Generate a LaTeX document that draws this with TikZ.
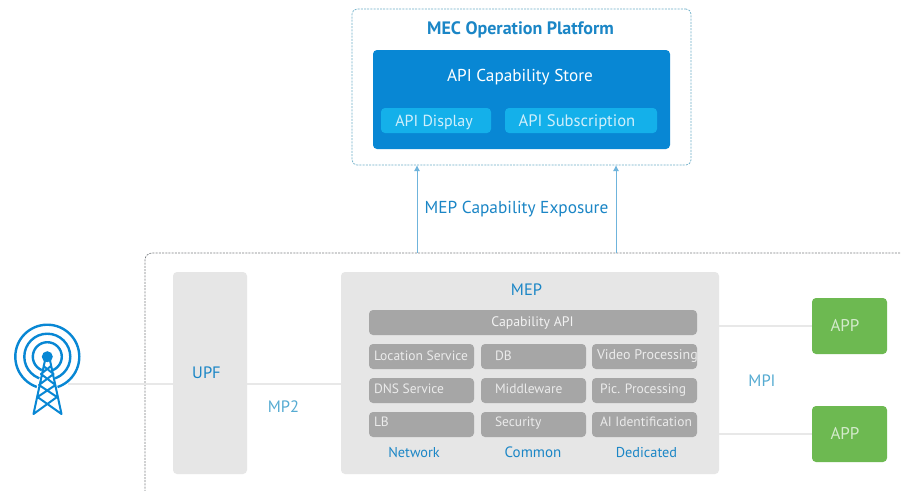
\documentclass[tikz,border=0pt]{standalone}
\usepackage{fontspec}
\setmainfont{PT Sans}
\usetikzlibrary{arrows.meta}
\definecolor{bluetxt}{HTML}{1B86C6}
\definecolor{lighttxt}{HTML}{55ABD2}
\definecolor{storeblue}{HTML}{0887D4}
\definecolor{subblue}{HTML}{14B0EA}
\definecolor{panel}{HTML}{E6E6E6}
\definecolor{cellgrey}{HTML}{A6A6A6}
\definecolor{appgreen}{HTML}{6DB951}
\definecolor{linegrey}{HTML}{E8E8E8}
\definecolor{arrowblue}{HTML}{6FB4DC}
\definecolor{dashgrey}{HTML}{7A7F82}
\definecolor{dashblue}{HTML}{6DAFC8}
\tikzset{
  x=1pt,y=-1pt,
  px/.style={inner sep=0pt,outer sep=0pt},
  cell/.style={px,fill=cellgrey,rounded corners=4pt,minimum width=105pt,minimum height=25pt},
  celltxt/.style={px,anchor=base west,text=white!78!cellgrey,font=\fontsize{13.5}{14}\selectfont},
  panelbox/.style={px,fill=panel,rounded corners=4pt},
  appbox/.style={px,fill=appgreen,rounded corners=4pt,minimum width=75pt,minimum height=56pt},
  apptxt/.style={px,text=white!70!appgreen,font=\fontsize{17}{17}\selectfont},
  wire/.style={linegrey,line width=1.6pt},
  up/.style={arrowblue,line width=1pt,-{Latex[length=6pt,width=6pt]}},
  tower/.style={storeblue,line width=2pt,line cap=round,line join=round},
  collabel/.style={px,text=bluetxt,font=\fontsize{14.3}{15}\selectfont},
  iflabel/.style={px,text=lighttxt,font=\fontsize{16.5}{17}\selectfont},
  subtxt/.style={px,text=white!80!subblue},
}
\begin{document}
\begin{tikzpicture}
\useasboundingbox (0,0) rectangle (901,490);
\fill[white] (0,0) rectangle (901,490);
% platform
\node[px,draw=dashblue,dash pattern=on 2pt off 1.2pt,line width=.7pt,rounded corners=5pt,minimum width=339pt,minimum height=156pt] (platform) at (521.5,87) {};
\node[px,text=bluetxt,font=\bfseries\fontsize{18}{18}\selectfont] (platformlabel) at (520.5,30) {MEC Operation Platform};
\node[px,fill=storeblue,rounded corners=4pt,minimum width=297pt,minimum height=99pt] (store) at (521.5,99.5) {};
\node[px,text=white,font=\fontsize{17.2}{17}\selectfont] (storelabel) at (520,77) {API Capability Store};
\node[px,fill=subblue,rounded corners=4pt,minimum width=110pt,minimum height=25pt] (display) at (436,120.5) {};
\node[subtxt,font=\fontsize{16}{16}\selectfont] (displayt) at (434,122) {API Display};
\node[px,fill=subblue,rounded corners=4pt,minimum width=152pt,minimum height=25pt] (subscr) at (581,120.5) {};
\node[subtxt,font=\fontsize{16.6}{16}\selectfont] (subscrt) at (577,122) {API Subscription};
% edge
\draw[dashgrey,dash pattern=on 2pt off 1.2pt,line width=.7pt,rounded corners=7pt] (145,495) -- (145,253) -- (905,253);
\coordinate (a1) at (417,253);
\coordinate (a2) at (616,253);
\draw[up] (a1) -- (a1 |- platform.south);
\draw[up] (a2) -- (a2 |- platform.south);
\node[px,text=bluetxt,font=\fontsize{17.3}{17}\selectfont] (exposure) at (516.5,209) {MEP Capability Exposure};
% panels
\node[panelbox,minimum width=74pt,minimum height=202pt] (upf) at (210,373) {};
\node[px,text=bluetxt,font=\fontsize{16.5}{16}\selectfont] (upft) at (206.5,372.5) {UPF};
\node[panelbox,minimum width=378pt,minimum height=202pt] (mep) at (530,373) {};
\node[px,text=bluetxt,font=\fontsize{16.5}{17}\selectfont] (meplabel) at (526.5,289.5) {MEP};
\node[px,fill=cellgrey,rounded corners=4pt,minimum width=328pt,minimum height=25pt] (capapi) at (533,322.5) {};
\node[px,text=white!85!cellgrey,font=\fontsize{13.8}{14}\selectfont] (capapit) at (532.5,323) {Capability API};
\foreach \n/\cx/\cy in {loc/421.5/356.5,dns/421.5/390.5,lb/421.5/424.5,db/533.5/356.5,mid/533.5/390.5,sec/533.5/424.5,vid/644.5/356.5,pic/644.5/390.5,ai/644.5/424.5}
  \node[cell] (\n) at (\cx,\cy) {};
\node[celltxt] (loct) at (374,360.5) {Location Service};
\node[celltxt] (dnst) at (374,393.5) {DNS Service};
\node[celltxt] (lbt) at (374,426.5) {LB};
\node[celltxt] (dbt) at (495,360.5) {DB};
\node[celltxt] (midt) at (495,393.5) {Middleware};
\node[celltxt] (sect) at (495,426.5) {Security};
\node[celltxt,font=\fontsize{14}{14}\selectfont] (vidt) at (597,359.5) {Video Processing};
\node[celltxt] (pict) at (600,393.5) {Pic. Processing};
\node[celltxt] (ait) at (600,426.5) {AI Identification};
\node[collabel] (net) at (414,452.5) {Network};
\node[collabel,font=\fontsize{15}{15}\selectfont] (com) at (533,452.5) {Common};
\node[collabel] (ded) at (646.5,452.5) {Dedicated};
% apps
\node[appbox] (app1) at (849.5,326) {};
\node[apptxt] (app1t) at (845,325) {APP};
\node[appbox] (app2) at (849.5,434) {};
\node[apptxt] (app2t) at (845,433) {APP};
% wires
\coordinate (ant) at (68,384);
\draw[wire] (ant) -- (ant -| upf.west);
\draw[wire] (upf.east |- ant) -- (mep.west |- ant);
\draw[wire] (mep.east |- app1) -- (app1.west);
\draw[wire] (mep.east |- app2) -- (app2.west);
\node[iflabel] (mp2) at (283.5,406.5) {MP2};
\node[iflabel] (mpi) at (762,380.5) {MPI};
% tower
\foreach \r in {32,23,14.5}
  \draw[storeblue,line width=2.4pt] (47.3,356.7) circle[radius=\r pt];
\fill[white] (47.3,352) -- (27,420) -- (67,420) -- cycle;
\fill[storeblue] (47.3,356.7) circle[radius=5.5pt];
\draw[tower] (33.5,414) -- (45.5,358) (61.5,414) -- (49.5,358)
  (33.5,414) -- (57,397) -- (39,385) -- (53.5,374) -- (43.5,366)
  (61.5,414) -- (37.5,397) -- (55.5,385) -- (41,374) -- (51,366);
\end{tikzpicture}
\end{document}
